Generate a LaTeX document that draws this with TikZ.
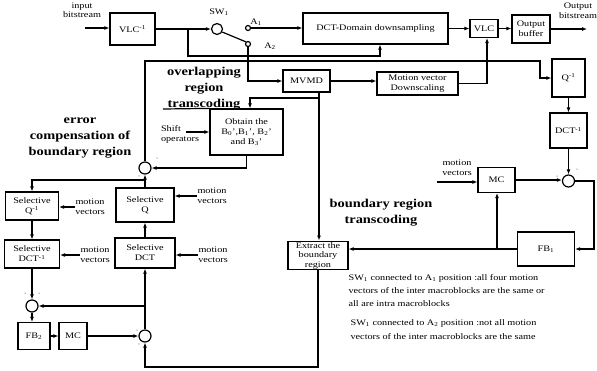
\documentclass[tikz,border=0pt]{standalone}
\usepackage{fontspec}
\setmainfont{Liberation Serif}[FakeStretch=1.2]
\usetikzlibrary{arrows.meta}

\tikzstyle{blk}=[draw, inner sep=1pt, align=center]
\tikzstyle{sumnode}=[draw, circle, minimum size=12pt, inner sep=0pt]
\tikzstyle{contact}=[draw, circle, minimum size=5pt, inner sep=0pt]
\tikzstyle{sig}=[-{Latex[length=5pt,width=4pt]}]
\tikzstyle{lbl}=[align=center, inner sep=0pt]
\tikzstyle{bigl}=[align=center, inner sep=0pt, font=\bfseries\fontsize{12}{16}\selectfont]
\tikzstyle{pm}=[inner sep=0pt, font=\tiny]

\begin{document}
\begin{tikzpicture}[x=1pt, y=-1pt, line width=1.2pt, font=\fontsize{8.5}{10}\selectfont]
\useasboundingbox (0,0) rectangle (597,370);

% top row
\node[blk, minimum width=45pt, minimum height=32pt] (vlcinv) at (132.5,29) {VLC\textsuperscript{-1}};
\node[sumnode, minimum size=11pt] (sw) at (217,29) {};
\node[contact] (a1) at (248,28) {};
\node[contact] (a2) at (248,44) {};
\node[blk, minimum width=145pt, minimum height=31pt] (dctds) at (375.5,28.5) {DCT-Domain downsampling};
\node[blk, minimum width=28pt, minimum height=18pt] (vlc) at (484,28.5) {VLC};
\node[blk, minimum width=38pt, minimum height=28pt] (outbuf) at (531,29) {Output\\buffer};
\node[blk, minimum width=47pt, minimum height=22pt] (mvmd) at (306.5,81) {MVMD};
\node[blk, minimum width=81pt, minimum height=23pt] (mvds) at (417.5,83.5) {Motion vector\\Downscaling};

\node[lbl, font=\fontsize{8.5}{8.5}\selectfont] (inlbl) at (82,10) {input\\bitstream};
\node[lbl] (outlbl) at (578,11) {Output\\bitstream};
\node[lbl] (swlbl) at (219,12) {SW\textsubscript{1}};
\node[lbl] (a1lbl) at (256,22) {A\textsubscript{1}};
\node[lbl] (a2lbl) at (270,46) {A\textsubscript{2}};

% right loop
\node[blk, minimum width=33pt, minimum height=38pt] (qinv) at (568.5,78) {Q\textsuperscript{-1}};
\node[blk, minimum width=37pt, minimum height=35pt] (dctinv) at (568.5,130.5) {DCT\textsuperscript{-1}};
\node[sumnode] (sumr) at (568.5,181) {};
\node[blk, minimum width=37pt, minimum height=25pt] (mcr) at (496.5,180) {MC};
\node[blk, minimum width=57pt, minimum height=34pt] (fb1) at (546,249) {FB\textsubscript{1}};
\node[lbl] (mvr) at (457,168) {motion\\vectors};

% overlapping / boundary region
\node[blk, minimum width=73pt, minimum height=46pt] (obtain) at (246.5,132) {Obtain the\\B\textsubscript{0}',B\textsubscript{1}', B\textsubscript{2}'\\and B\textsubscript{3}'};
\node[lbl, align=left] (shift) at (180,134) {Shift\\operators};
\node[blk, minimum width=60pt, minimum height=25pt, font=\fontsize{8.5}{9.5}\selectfont] (extract) at (318,255.5) {Extract the\\boundary\\region};
\node[sumnode] (sumc) at (145,168) {};

% error compensation
\node[blk, minimum width=53pt, minimum height=28pt] (selqinv) at (32,206) {Selective\\Q\textsuperscript{-1}};
\node[blk, minimum width=58pt, minimum height=34pt] (selq) at (145,205) {Selective\\Q};
\node[blk, minimum width=55pt, minimum height=28pt] (seldctinv) at (32,254) {Selective\\DCT\textsuperscript{-1}};
\node[blk, minimum width=60pt, minimum height=30pt] (seldct) at (145,253) {Selective\\DCT};
\node[sumnode] (suml) at (32,306) {};
\node[blk, minimum width=32pt, minimum height=27pt] (fb2) at (34,336) {FB\textsubscript{2}};
\node[blk, minimum width=28pt, minimum height=27pt] (mcl) at (73,336) {MC};
\node[sumnode] (sumb) at (145,336) {};
\node[lbl] (mv1) at (90,207) {motion\\vectors};
\node[lbl] (mv2) at (212,196) {motion\\vectors};
\node[lbl] (mv3) at (95,255) {motion\\vectors};
\node[lbl] (mv4) at (213,255) {motion\\vectors};

% titles and notes
\node[bigl] (ovl) at (204,89) {overlapping\\region\\transcoding};
\node[bigl] (errc) at (80,138) {error\\compensation of\\boundary region};
\node[bigl] (brt) at (381,213) {boundary region\\transcoding};
\node[lbl, align=left, anchor=north west, font=\fontsize{8.5}{13}\selectfont] (note1) at (348,274)
  {SW\textsubscript{1} connected to A\textsubscript{1} position :all four motion\\vectors of the inter macroblocks are the same or\\all are intra macroblocks};
\node[lbl, align=left, anchor=north west, font=\fontsize{8.5}{14}\selectfont] (note2) at (350,319)
  {SW\textsubscript{1} connected to A\textsubscript{2} position :not all motion\\vectors of the inter macroblocks are the same};

% signs at the adders
\node[pm] at (557,178) {'};
\node[pm] at (577,171) {'};
\node[pm] at (157,160) {'};
\node[pm] at (139,177) {,};
\node[pm] at (25,295) {'};
\node[pm] at (39,295) {'};
\node[pm] at (137,332) {'};
\node[pm] at (139,345) {,};

% connectors
\coordinate (in) at (85,28);
\draw[sig] (in) -- (in -| vlcinv.west);
\draw[sig] (vlcinv.east) -- (sw.west);
\draw (sw.-30) -- (a2.north west);
\draw[sig] (a1.east) -- (a1.east -| dctds.west);
\coordinate (br1) at (188,29);
\coordinate (ds) at (380,56);
\draw[sig] (br1) |- (ds) -- (ds |- dctds.south);
\draw[sig] (a2.south) |- (mvmd.west);
\draw[sig] (mvmd.east) -- (mvmd.east -| mvds.west);
\coordinate (vk) at (487,83.5);
\draw[sig, line width=1.5pt] (mvds.east) -- (vk) -- (vk |- vlc.south);
\draw[sig] (dctds.east) -- (vlc.west);
\draw[sig] (vlc.east) -- (vlc.east -| outbuf.west);
\coordinate (out) at (587,29);
\draw[sig] (outbuf.east) -- (out);

\coordinate (tl) at (145,61);
\coordinate (tr) at (540,61);
\draw[sig] (sumc.north) -- (tl) -- (tr) |- (qinv.west);
\fill (487,61) circle (1.6pt);

\draw[sig] (qinv.south) -- (dctinv.north);
\draw[sig] (dctinv.south) -- (sumr.north);
\draw[sig] (mcr.east) -- (mcr.east -| sumr.west);
\coordinate (rr) at (594,181);
\draw[sig] (sumr.east) -- (rr) |- (fb1.east);
\draw[sig] (fb1.west) -- (fb1.west -| extract.east);
\coordinate (fm) at (497,249);
\draw[sig] (fm) -- (fm |- mcr.south);
\coordinate (mvin) at (437,182);
\draw[sig] (mvin) -- (mvin -| mcr.west);

\coordinate (mb) at (319,98);
\coordinate (ob) at (250,98);
\draw[sig] (mb |- mvmd.south) -- (mb) -- (mb |- extract.north);
\draw[sig] (mb) -- (ob) -- (ob |- obtain.north);
\draw (163,109) -- (obtain.north west);
\coordinate (sh) at (186,132);
\draw[sig] (sh) -- (sh -| obtain.west);
\draw[sig] (obtain.south) |- (sumc.east);

\draw[sig] (selq.north) -- (sumc.south);
\coordinate (qb) at (145,180);
\draw[sig] (qb) -| (selqinv.north);
\draw[sig] (selqinv.south) -- (seldctinv.north);
\draw[sig] (seldctinv.south) -- (suml.north);
\draw[sig] (suml.south) -- (suml.south |- fb2.north);
\draw[sig] (fb2.east) -- (mcl.west);
\draw[sig] (mcl.east) -- (sumb.west);
\draw[sig] (sumb.north) -- (seldct.south);
\coordinate (lb) at (145,306);
\draw[sig] (lb) -- (suml.east);
\draw[sig] (seldct.north) -- (selq.south);
\coordinate (bl) at (145,367);
\draw[sig] (extract.south) |- (bl) -- (sumb.south);

\draw[sig] (mv1.west) -- (mv1.west -| selqinv.east);
\draw[sig] (mv2.west) -- (mv2.west -| selq.east);
\draw[sig] (mv3.west) -- (mv3.west -| seldctinv.east);
\draw[sig] (mv4.west) -- (mv4.west -| seldct.east);
\end{tikzpicture}
\end{document}
